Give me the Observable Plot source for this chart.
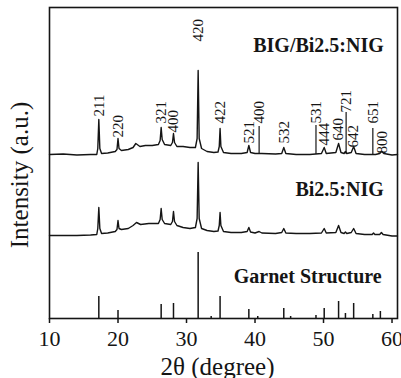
<!DOCTYPE html>
<html><head><meta charset="utf-8">
<script src="https://cdn.jsdelivr.net/npm/d3@7"></script>
<script src="https://cdn.jsdelivr.net/npm/@observablehq/plot@0.6"></script>
<style>body{margin:0;background:#fff}</style>
</head><body><div id="chart"></div>
<script>
// 2θ (degree) vs intensity (a.u., stacked offsets as drawn)
const xTicks = [10, 20, 30, 40, 50, 60];

const bigTrace = [[10,164],[12,164.5],[14,163.5],[16,164],[16.9,164],[17.05,170],[17.2,199],[17.35,170],[17.6,165],[18.5,165.5],[19.6,167],[19.85,169],[20.0,180],[20.15,170],[20.5,168],[21.5,169],[22.2,171],[22.6,175],[23.2,172],[24,173],[25,173],[25.9,174],[26.15,178],[26.3,191],[26.45,179],[26.8,174],[27.7,173],[27.95,176],[28.1,185],[28.25,176],[28.6,172],[29.5,172],[30.5,171],[31.3,171],[31.55,180],[31.7,248],[31.85,180],[32.2,170],[33,167],[34,166],[34.6,166.5],[34.78,172],[34.9,190],[35.02,172],[35.4,166],[36.5,165],[38,165],[38.85,166],[39.1,173],[39.35,166],[40,165],[41,165],[43,164.5],[43.9,165],[44.2,171],[44.5,165],[46,164],[48,164],[49.7,165],[50.1,171],[50.4,165],[51.8,166],[52.2,175],[52.55,166],[53.0,165],[53.2,167],[53.4,165],[54.05,166],[54.4,172],[54.75,165],[56,164],[57.6,164],[58.2,165],[58.5,167],[58.8,165],[60,163.5],[60.8,164]];

const nigTrace = [[10,83],[12,83],[14,83],[16,83.5],[16.9,84],[17.05,90],[17.2,111],[17.35,90],[17.6,85],[18.5,85.5],[19.6,87],[19.85,89],[20.0,98],[20.15,90],[20.5,89],[21.5,90],[22.2,93],[22.7,96],[23.3,94],[24.5,95],[25.9,95],[26.15,99],[26.3,110],[26.45,99],[26.8,95],[27.7,94],[27.95,97],[28.1,107],[28.25,97],[28.6,93],[29.5,91],[30.5,90],[31.3,91],[31.55,100],[31.7,156],[31.85,100],[32.2,90],[33,88],[34,87],[34.6,87.5],[34.78,93],[34.9,106],[35.02,93],[35.4,87],[36.5,86],[38,86],[38.85,87],[39.1,91],[39.35,86.5],[40,85.5],[40.6,87],[41,85.5],[43,85],[43.9,86],[44.2,90],[44.5,85.5],[46,85],[48,85],[49.7,85.5],[50.1,90],[50.4,85.5],[51.8,86],[52.2,93],[52.55,86],[53.0,85],[53.2,86.5],[53.4,85],[54.05,86],[54.4,90],[54.75,85],[56,84],[57.1,84],[57.3,85.5],[57.5,84],[58.2,84],[58.45,86],[58.7,84],[60,82.5],[60.8,82.5]];

// Garnet reference pattern (stick heights)
const garnetPos = [17.2, 20.0, 26.3, 28.1, 31.7, 33.6, 34.9, 39.1, 40.4, 44.2, 45.2, 48.9, 50.1, 52.2, 53.2, 54.4, 57.2, 58.3];
const garnetInt = [22, 8, 14, 15, 66, 2, 22, 9, 2, 10, 2, 3, 10, 17, 5, 15, 4, 7];

// Miller index labels on top pattern
const hklText = ["211","220","321","400","420","422","521","400","532","531","444","640","721","642","651","800"];
const hklPos  = [17.2, 20.0, 26.3, 28.1, 31.7, 34.9, 39.1, 40.6, 44.3, 48.9, 50.1, 52.2, 53.3, 54.4, 57.2, 58.5];
const hklBase = [202, 181, 195, 186, 277, 195, 175, 195, 175, 195, 173, 178, 206, 171, 195, 165];

// leader lines (sharp lines) in top pattern
const leadPos = [40.6, 48.9, 53.3, 57.2];
const leadTop = [192, 193, 206, 190];
const leadBase = 164;

const seriesNames = ["BIG/Bi2.5:NIG", "Bi2.5:NIG", "Garnet Structure"];
const seriesY = [273, 129, 42];
const seriesX = [58.8, 58.8, 58.5];

const font = "'Liberation Serif', 'Times New Roman', serif";
const ink = "#151515";

const toObj = a => a.map(([x, y]) => ({x, y}));
const sticks = garnetPos.map((x, i) => ({x, y: garnetInt[i]}));
const labels = hklText.map((t, i) => ({t, x: hklPos[i], y: hklBase[i]}));
const leads = leadPos.map((x, i) => ({x, y1: leadBase, y2: leadTop[i]}));
const titles = seriesNames.map((t, i) => ({t, x: seriesX[i], y: seriesY[i]}));

const chart = Plot.plot({
  width: 401, height: 378,
  marginLeft: 49, marginRight: 4, marginTop: 7, marginBottom: 60,
  style: {fontFamily: font, fontSize: "22px", color: ink, background: "#fff"},
  x: {domain: [10, 60.8], axis: null},
  y: {domain: [0, 311], axis: null},
  marks: [
    Plot.line(toObj(bigTrace), {x: "x", y: "y", stroke: ink, strokeWidth: 1.4}),
    Plot.line(toObj(nigTrace), {x: "x", y: "y", stroke: ink, strokeWidth: 1.4}),
    Plot.ruleX(leads, {x: "x", y1: "y1", y2: "y2", stroke: ink, strokeWidth: 1.2}),
    Plot.ruleX(sticks, {x: "x", y1: 0, y2: "y", stroke: ink, strokeWidth: 1.5}),
    Plot.text(labels, {x: "x", y: "y", text: "t", rotate: -90, textAnchor: "start", lineAnchor: "middle", fontSize: 15, fill: ink, fontFamily: font}),
    Plot.text(titles, {x: "x", y: "y", text: "t", textAnchor: "end", lineAnchor: "middle", fontSize: 20, fontWeight: "bold", fill: ink, fontFamily: font}),
    Plot.frame({stroke: ink, strokeWidth: 1.6}),
    Plot.axisX(xTicks, {tickSize: 5, tickPadding: 7, fontSize: 22, fontFamily: font, label: null, stroke: ink, strokeWidth: 1.5, fill: ink}),
    Plot.text(["2θ (degree)"], {frameAnchor: "bottom", textAnchor: "middle", lineAnchor: "middle", dx: -6, dy: 48, fontSize: 25, fill: ink, fontFamily: font}),
    Plot.text(["Intensity (a.u.)"], {frameAnchor: "left", textAnchor: "middle", lineAnchor: "middle", rotate: -90, dx: -30, dy: 12, fontSize: 25, fill: ink, fontFamily: font})
  ]
});
document.getElementById("chart").append(chart);
</script>
</body></html>
